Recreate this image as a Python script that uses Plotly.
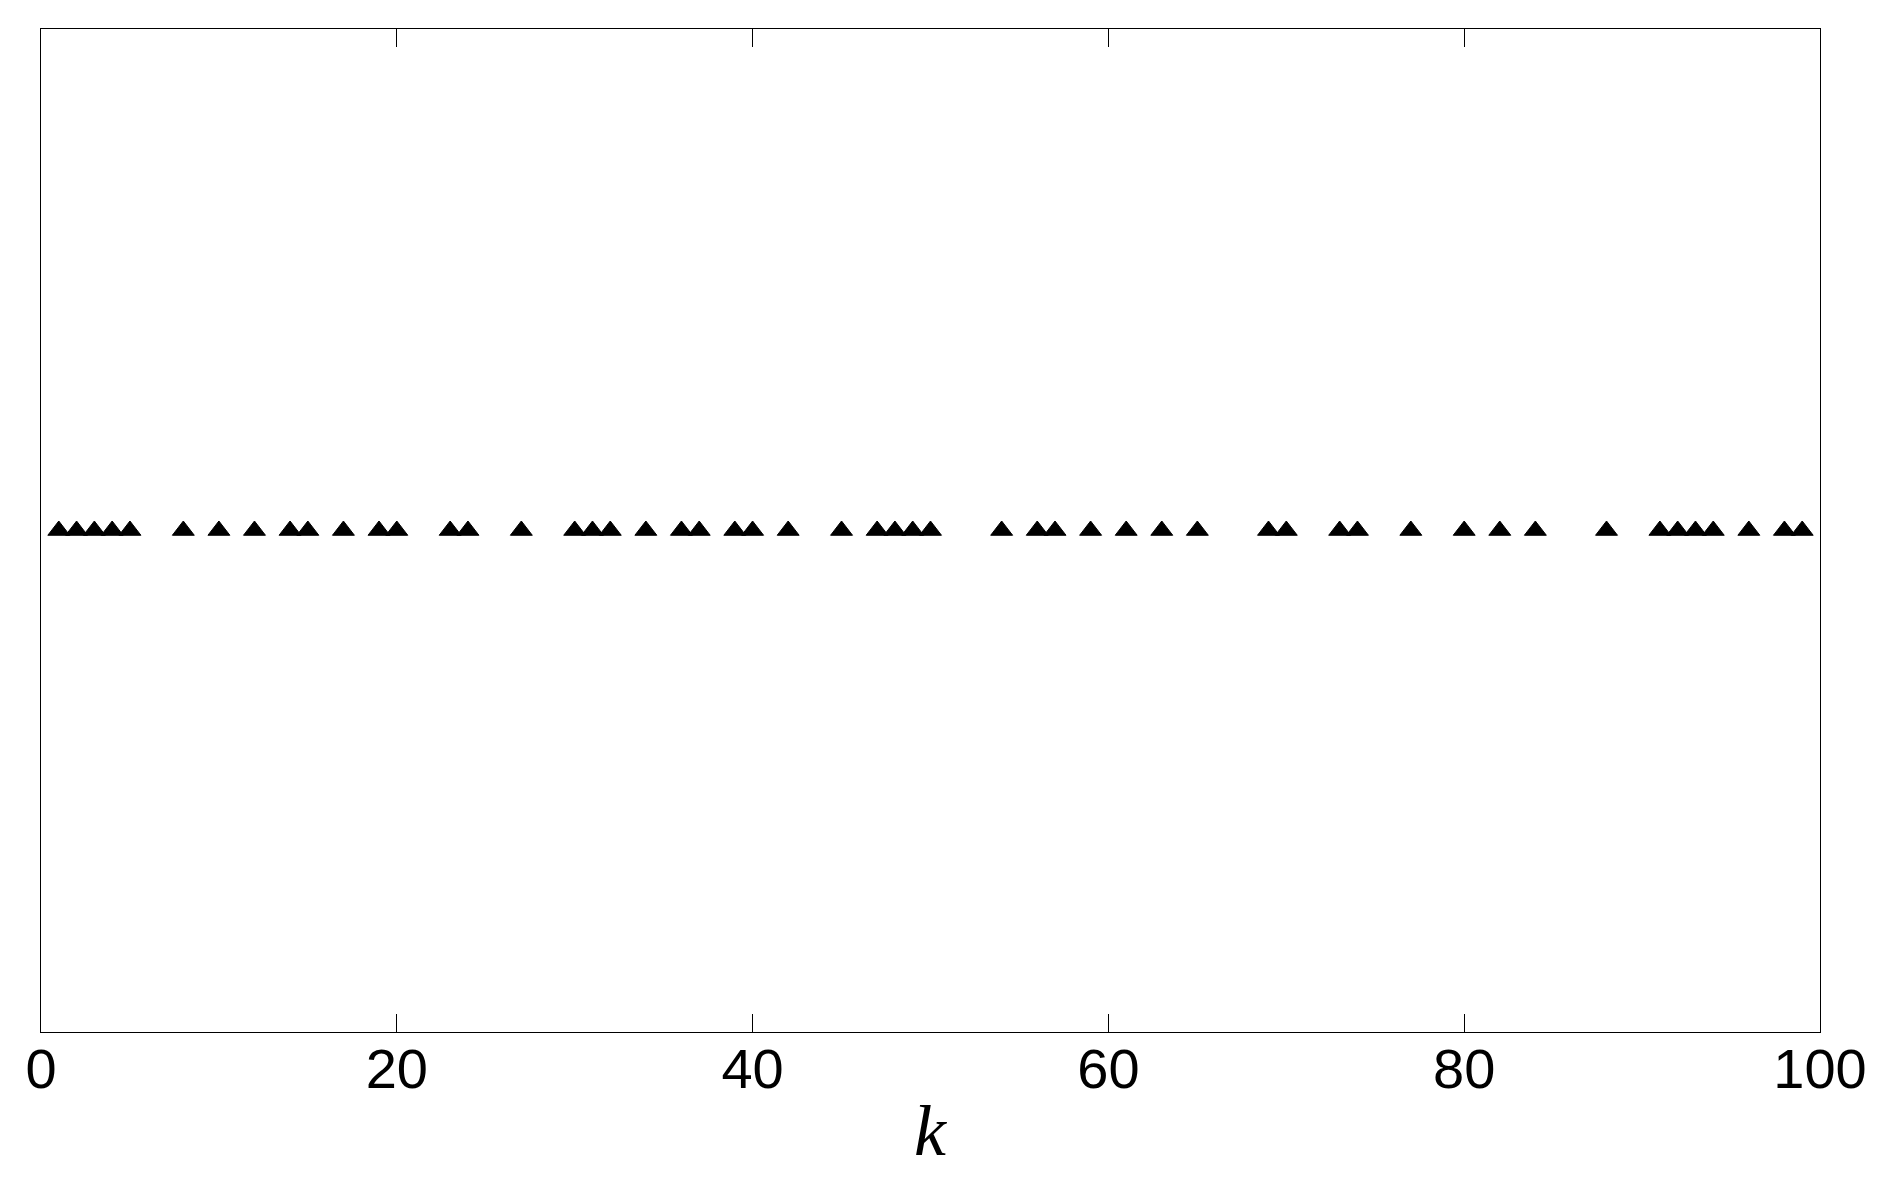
import plotly.graph_objects as go

# indices k where a marker is drawn
k_values = [1, 2, 3, 4, 5, 8, 10, 12, 14, 15, 17, 19, 20, 23, 24, 27, 30, 31, 32, 34,
            36, 37, 39, 40, 42, 45, 47, 48, 49, 50, 54, 56, 57, 59, 61, 63, 65, 69, 70,
            73, 74, 77, 80, 82, 84, 88, 91, 92, 93, 94, 96, 98, 99]
y_values = [0] * len(k_values)
x_ticks = [0, 20, 40, 60, 80, 100]

fig = go.Figure()
fig.add_trace(go.Scatter(
    x=k_values, y=y_values,
    mode="markers",
    marker=dict(symbol="triangle-up", size=19, color="black", line=dict(color="black", width=1)),
    showlegend=False,
))

fig.add_annotation(
    text="<i>k</i>", xref="paper", yref="paper", x=0.5, y=-0.099,
    xanchor="center", yanchor="middle", showarrow=False,
    font=dict(family="Liberation Serif", size=72, color="black"),
)

fig.update_layout(
    width=1890, height=1189,
    plot_bgcolor="white", paper_bgcolor="white",
    margin=dict(l=33, r=78, t=21, b=165),
    font=dict(family="Liberation Sans", color="black"),
    xaxis=dict(
        range=[0, 100], tickvals=x_ticks, ticks="inside", ticklen=18, tickwidth=1,
        tickcolor="black", showline=True, linecolor="black", linewidth=1, mirror="ticks",
        showgrid=False, zeroline=False, ticklabelstandoff=-12,
        tickfont=dict(family="Liberation Sans", size=56, color="black"),
    ),
    yaxis=dict(
        range=[-1, 1], showticklabels=False, ticks="", showline=True, linecolor="black",
        linewidth=1, mirror=True, showgrid=False, zeroline=False,
    ),
)

fig.write_html("out.html")
